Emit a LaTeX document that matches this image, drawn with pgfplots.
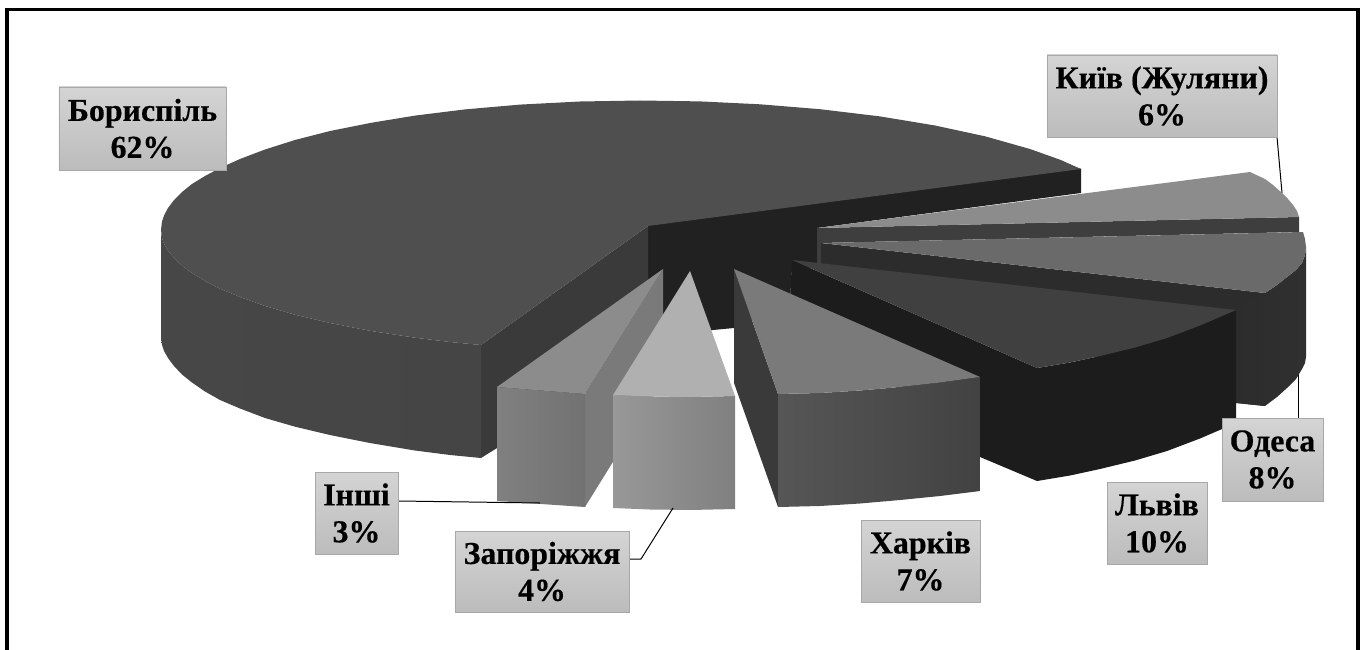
\documentclass[border=0pt]{standalone}
\usepackage{fontspec}
\setmainfont[BoldFeatures={FakeBold=0.4}]{Liberation Serif}
\usepackage{pgfplots}
\pgfplotsset{compat=1.18}

% Shades of the pie faces
\definecolor{bigtop}{HTML}{4F4F4F}
\definecolor{bigsideL}{HTML}{474747}
\definecolor{bigsideM}{HTML}{4C4C4C}
\definecolor{bigsideR}{HTML}{454545}
\definecolor{biginner}{HTML}{3A3A3A}
\definecolor{core}{HTML}{212121}
\definecolor{kyivtop}{HTML}{8C8C8C}
\definecolor{kyivside}{HTML}{3E3E3E}
\definecolor{odesatop}{HTML}{6A6A6A}
\definecolor{odesaside}{HTML}{2C2C2C}
\definecolor{odesaout}{HTML}{303030}
\definecolor{lvivtop}{HTML}{404040}
\definecolor{lvivside}{HTML}{1C1C1C}
\definecolor{kharkivtop}{HTML}{7A7A7A}
\definecolor{kharkivin}{HTML}{3A3A3A}
\definecolor{kharkivL}{HTML}{565656}
\definecolor{kharkivR}{HTML}{424242}
\definecolor{otherstop}{HTML}{8C8C8C}
\definecolor{othersin}{HTML}{7A7A7A}
\definecolor{othersL}{HTML}{808080}
\definecolor{othersR}{HTML}{727272}
\definecolor{zaptop}{HTML}{B0B0B0}
\definecolor{zapL}{HTML}{989898}
\definecolor{zapR}{HTML}{808080}
\definecolor{labtop}{HTML}{D4D4D4}
\definecolor{labbot}{HTML}{BCBCBC}
\definecolor{labedge}{HTML}{A8A8A8}

% Data label: centre x, centre y, width, height, two lines of text
\newcommand{\pielabel}[6]{%
  \node[draw=labedge, line width=0.9pt, top color=labtop, bottom color=labbot,
        minimum width=#3bp, minimum height=#4bp, inner sep=0pt, align=center,
        font=\fontsize{32}{37}\selectfont\bfseries, text=black]
    at (axis cs:#1,#2) {#5\\#6};}

\begin{document}
\begin{tikzpicture}
\begin{axis}[
  scale only axis, width=1365bp, height=650bp,
  xmin=0, xmax=1365, ymin=0, ymax=650, y dir=reverse,
  axis lines=none, clip=true,
  every axis plot/.append style={draw=none, line join=round},
]
% Full extent of the drawing area
\addplot[draw=none] coordinates {(0,0) (1365,650)};

% Frame: left, top and right rules
\addplot[draw=black, line width=4.2pt] coordinates {(7.2,650) (7.2,8)};
\addplot[draw=black, line width=4.2pt] coordinates {(1358,650) (1358,8)};
\addplot[draw=black, line width=3pt] coordinates {(5,9.3) (1360,9.3)};

% Core of the pie and the cut faces of the large slice
\addplot[fill=core] coordinates {(648,224.5) (1081,168.5) (1081,193) (817,228) (817,268) (792,268) (790,300) (734,328) (713,330) (680,336) (648,354)} --cycle;
\addplot[fill=biginner] coordinates {(481,345) (648,226) (648,354) (481,458)} --cycle;
\addplot[left color=bigsideL, middle color=bigsideM, right color=bigsideR] coordinates {
  (161,232) (162,238) (164,243.7) (168,250.7) (174,258) (182,265.7) (192,273) (205,281) (220,288.7)
  (240,297) (265,306) (295,314.7) (330,323) (370,330.8) (415,337.7) (450,342) (481,345)
  (481,458) (450,455) (415,450.5) (370,443) (330,435) (295,426.7) (265,418) (240,408.5) (220,400)
  (205,391.5) (192,382.5) (182,374.5) (174,366) (168,358) (164,351) (162,345) (161,338)} --cycle;
\addplot[fill=bigtop] coordinates {
  (1081,169) (1060,159.7) (1030,149) (985,136.3) (935,125.5) (880,116.4) (820,109.2) (760,104.3) (700,101.4)
  (640,100.5) (580,101.5) (520,104.6) (465,109.4) (415,115.6) (370,123) (330,131) (295,140) (265,149.5)
  (240,159) (220,168) (205,176) (192,184) (182,192) (174,200) (168,208) (164,215.5) (162,221.6) (161,230)
  (162,238) (164,243.7) (168,250.7) (174,258) (182,265.7) (192,273) (205,281) (220,288.7)
  (240,297) (265,306) (295,314.7) (330,323) (370,330.8) (415,337.7) (450,342) (481,345) (648,226)} --cycle;

% Leader lines behind the slices they end on
\addplot[draw=black, line width=1pt] coordinates {(1277,137) (1282,193)};
\addplot[draw=black, line width=1pt] coordinates {(1298,418) (1298,372)};

% Kyiv (Zhuliany)
\addplot[fill=kyivside] coordinates {(817,228) (1299,217) (1299,232) (821,243) (821,268) (817,268)} --cycle;
\addplot[fill=kyivtop] coordinates {(817,228) (1250,172) (1265,179) (1273,185) (1282,193) (1288,199) (1293,205) (1297,211) (1299,217)} --cycle;

% Odesa
\addplot[fill=odesaside] coordinates {(821,243) (1265,293) (1265,406) (1236,403) (821,268)} --cycle;
\addplot[left color=odesaside, right color=odesaout] coordinates {(1265,293) (1277,285) (1287,277) (1296,270) (1302,263) (1305,255) (1306,247) (1306,357) (1305,363) (1302,369) (1296,379) (1287,388) (1277,397) (1265,406) (1236,403) (1236,310)} --cycle;
\addplot[fill=odesatop] coordinates {(821,243) (1303,232) (1305,239) (1306,247) (1305,255) (1302,263) (1296,270) (1287,277) (1277,285) (1265,293)} --cycle;

% Lviv
\addplot[fill=lvivside] coordinates {(792,260) (1037,368) (1037,481) (980,457) (790,300)} --cycle;
\addplot[fill=lvivside] coordinates {(1037,368) (1070,362.5) (1100,356) (1135,347.5) (1167,338) (1200,325.5) (1236,310) (1236,423) (1200,438.5) (1167,451) (1135,460.5) (1100,469) (1070,475.5) (1037,481)} --cycle;
\addplot[fill=lvivtop] coordinates {(792,260) (1236,310) (1200,325.5) (1167,338) (1135,347.5) (1100,356) (1070,362.5) (1037,368)} --cycle;

% Kharkiv
\addplot[fill=kharkivin] coordinates {(734,269) (778,394) (778,507) (734,383)} --cycle;
\addplot[left color=kharkivL, right color=kharkivR] coordinates {(778,394) (820,393) (860,390.5) (900,387) (940,382.5) (980,377) (980,491) (940,496) (900,500) (860,503.5) (820,506) (778,507)} --cycle;
\addplot[fill=kharkivtop] coordinates {(734,269) (980,377) (940,382.5) (900,387) (860,390.5) (820,393) (778,394)} --cycle;

% Others
\addplot[fill=othersin] coordinates {(663,269) (663,381) (585,507) (585,394)} --cycle;
\addplot[left color=othersL, right color=othersR] coordinates {(497,387) (585,394) (585,507) (497,501)} --cycle;
\addplot[fill=otherstop] coordinates {(663,269) (585,394) (497,387)} --cycle;

% Zaporizhzhia
\addplot[left color=zapL, right color=zapR] coordinates {(613,395) (650,396.5) (690,397) (735,396) (735,509) (690,510) (650,509.5) (613,508)} --cycle;
\addplot[fill=zaptop] coordinates {(690,271) (735,396) (690,397) (650,396.5) (613,395)} --cycle;

% Remaining leader lines
\addplot[draw=black, line width=1pt] coordinates {(399,501) (540,503)};
\addplot[draw=black, line width=1pt] coordinates {(629,559) (641,559) (673,508)};

% Data labels
\pielabel{142.5}{128.5}{167}{83}{Бориспіль}{62\%}
\pielabel{1162}{96}{230}{82}{Київ (Жуляни)}{6\%}
\pielabel{1272.5}{459.5}{101}{83}{Одеса}{8\%}
\pielabel{1157}{523}{100}{82}{Львів}{10\%}
\pielabel{920.5}{561}{119}{82}{Харків}{7\%}
\pielabel{542}{571.5}{174}{81}{Запоріжжя}{4\%}
\pielabel{356.5}{513}{83}{82}{Інші}{3\%}
\end{axis}
\end{tikzpicture}
\end{document}
